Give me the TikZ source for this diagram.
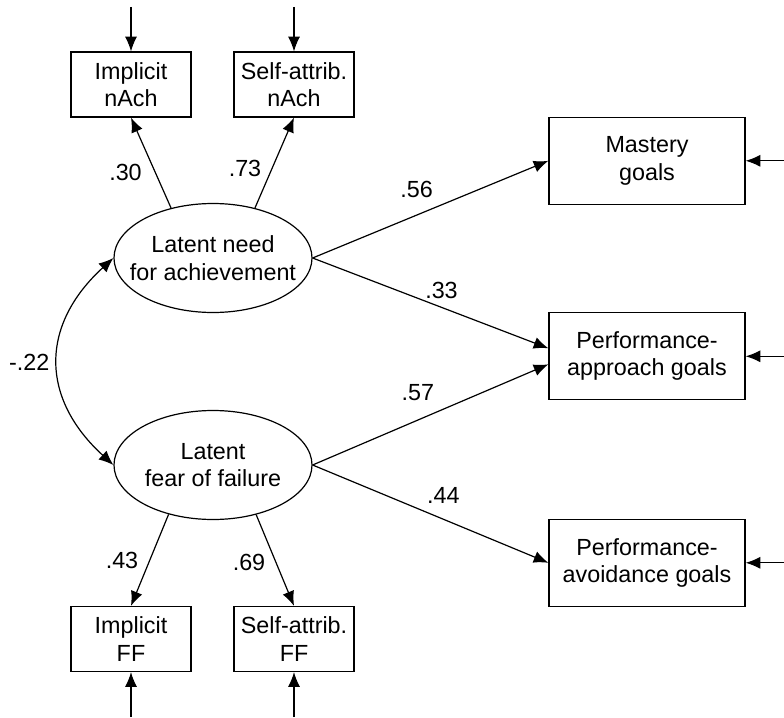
\documentclass[tikz,border=0pt]{standalone}
\usepackage{fontspec}
\setmainfont{Liberation Sans}
\usetikzlibrary{arrows.meta,shapes.geometric}
\tikzstyle{indicator} = [rectangle, minimum width=90pt, minimum height=48.75pt, inner sep=0pt, align=center, draw=black, line width=0.9pt]
\tikzstyle{goal} = [rectangle, minimum width=147pt, minimum height=65.25pt, inner sep=0pt, align=center, draw=black, line width=0.9pt]
\tikzstyle{latent} = [ellipse, minimum width=148.5pt, minimum height=81.75pt, inner xsep=-12pt, inner ysep=0pt, align=center, draw=black, line width=0.9pt]
\tikzstyle{coef} = [inner sep=0pt]

\begin{document}
\begin{tikzpicture}[x=0.75pt, y=0.75pt, font=\fontsize{17.5}{20.5}\selectfont]
        \useasboundingbox (0,0) rectangle (784,-717);
        % latent variables
        \node[latent] (need) at (213,-258) {Latent need\\for achievement};
        \node[latent] (fear) at (213,-465) {Latent\\fear of failure};
        % indicators
        \node[indicator] (impN) at (131,-84.5) {Implicit\\nAch};
        \node[indicator] (satN) at (294,-84.5) {Self-attrib.\\nAch};
        \node[indicator] (impF) at (131,-639) {Implicit\\FF};
        \node[indicator] (satF) at (294,-639) {Self-attrib.\\FF};
        % goals
        \node[goal] (mas) at (647,-160.8) {Mastery\\goals};
        \node[goal] (pap) at (647,-356.3) {Performance-\\approach goals};
        \node[goal] (pav) at (647,-562.8) {Performance-\\avoidance goals};
        % error terms
        \coordinate (eImpN) at (131,-7);
        \coordinate (eSatN) at (294,-7);
        \coordinate (eImpF) at (131,-717);
        \coordinate (eSatF) at (294,-717);
        \coordinate (eMas) at (784,-160.8);
        \coordinate (ePap) at (784,-356.3);
        \coordinate (ePav) at (784,-562.8);
        \begin{scope}[-{Latex[length=11pt,width=9pt]}, line width=0.9pt]
            \draw (eImpN) -- (impN);
            \draw (eSatN) -- (satN);
            \draw (eImpF) -- (impF);
            \draw (eSatF) -- (satF);
            \draw (eMas) -- (mas);
            \draw (ePap) -- (pap);
            \draw (ePav) -- (pav);
            \draw (need.130) -- (impN.south);
            \draw (need.50) -- (satN.south);
            \draw (fear.228) -- (impF.north);
            \draw (fear.311) -- (satF.north);
            \draw (need.east) -- (mas.west);
            \draw (need.east) -- ([yshift=6pt]pap.west);
            \draw (fear.east) -- ([yshift=-6pt]pap.west);
            \draw (fear.east) -- (pav.west);
            \draw[{Latex[length=11pt,width=9pt]}-{Latex[length=11pt,width=9pt]}] (need.west) .. controls (40,-325) and (40,-398) .. (fear.west);
        \end{scope}
        % coefficients
        \node[coef] (c30) at (125.5,-172.5) {.30};
        \node[coef] (c73) at (245,-168) {.73};
        \node[coef] (c43) at (122,-560) {.43};
        \node[coef] (c69) at (249,-562.5) {.69};
        \node[coef] (c56) at (416.7,-189.5) {.56};
        \node[coef] (c33) at (441.5,-290.3) {.33};
        \node[coef] (c57) at (417.8,-392.5) {.57};
        \node[coef] (c44) at (443.3,-495.8) {.44};
        \node[coef] (c22) at (29.2,-362.5) {-.22};
    \end{tikzpicture}
\end{document}
